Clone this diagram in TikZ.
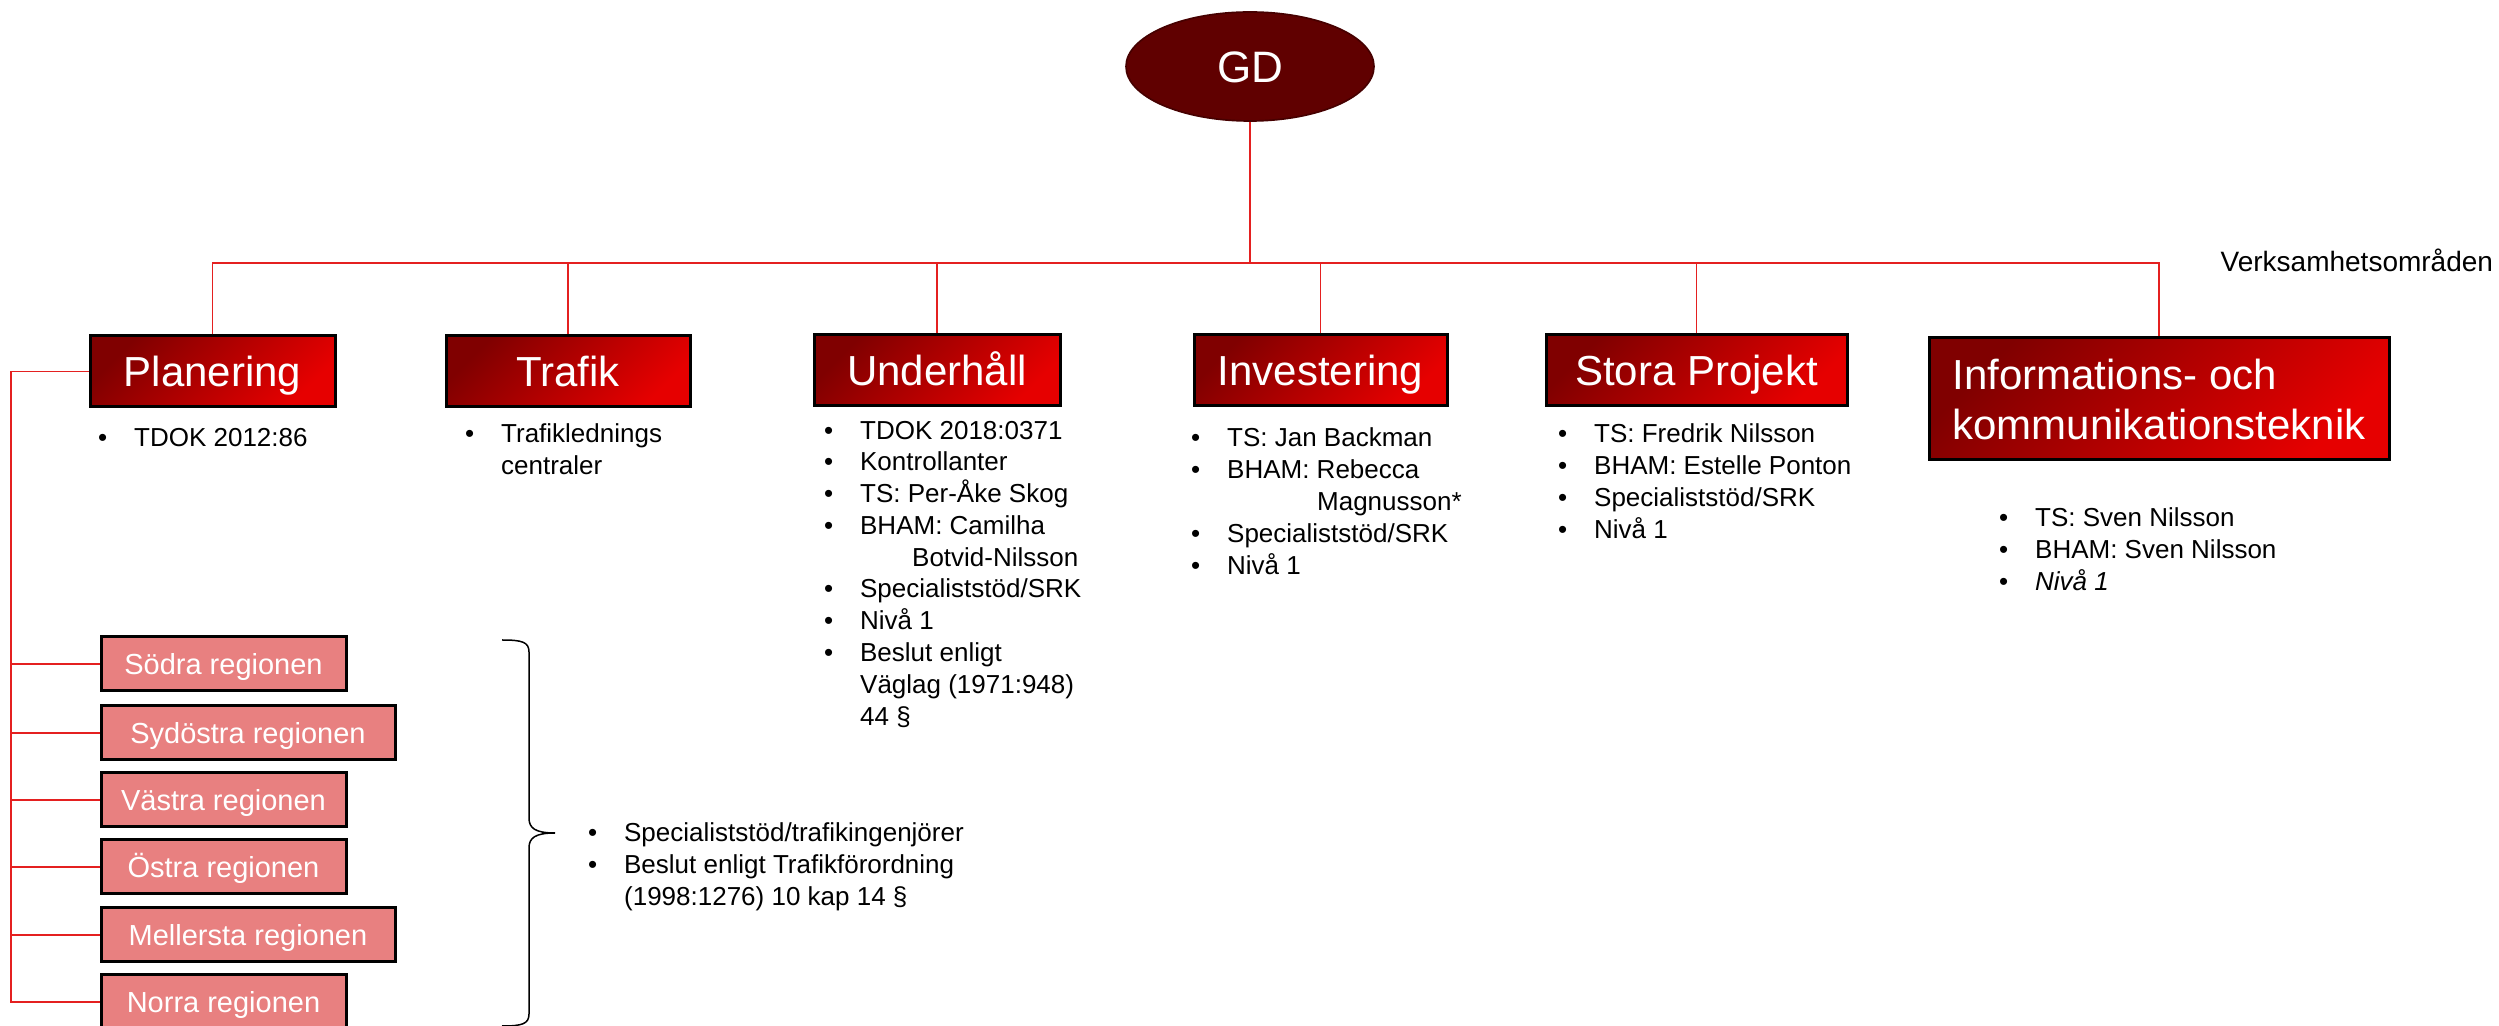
\documentclass[tikz,border=0pt]{standalone}
\usepackage{fontspec}
\setmainfont{Liberation Sans}
\usetikzlibrary{shapes.geometric,calc}
\definecolor{gdfill}{RGB}{96,0,0}
\definecolor{gdline}{RGB}{70,0,0}
\definecolor{boxdark}{RGB}{128,0,0}
\definecolor{boxlight}{RGB}{230,0,0}
\definecolor{regfill}{RGB}{232,128,128}
\definecolor{linered}{RGB}{228,32,32}
\newcommand{\bitem}[1]{\makebox[10.8pt][l]{•}#1}
\newcommand{\bcont}[1]{\hspace*{10.8pt}#1}
\tikzset{
  gdnode/.style={ellipse, fill=gdfill, draw=gdline, line width=0.5pt,
    minimum width=74.4pt, minimum height=32.7pt, inner sep=0pt, text=white,
    font=\fontsize{13.2}{15}\selectfont, text height=9.45pt, text depth=0pt},
  topbase/.style={draw=black, line width=0.9pt, top color=boxdark, bottom color=boxlight,
    shading angle=45, text=white, font=\fontsize{12.6}{15}\selectfont, inner sep=0pt},
  topbox/.style={topbase, minimum height=21.3pt, text height=9.02pt, text depth=0pt},
  regbox/.style={draw=black, line width=0.9pt, fill=regfill, text=white,
    font=\fontsize{8.7}{10}\selectfont, minimum height=16.2pt, inner sep=0pt,
    text height=6.23pt, text depth=0pt},
  lst/.style={anchor=base west, align=left, inner sep=0pt, font=\fontsize{7.8}{9.54}\selectfont},
  conn/.style={draw=linered, line width=0.5pt},
  bracestyle/.style={draw=black, line width=0.45pt}
}
\begin{document}
\begin{tikzpicture}[x=0.3pt,y=-0.3pt]
\useasboundingbox (0,0) rectangle (2499,1026);

\node[gdnode] (gd) at (1250,66.5) {GD};

\node[topbox, minimum width=73.5pt] (plan) at (212.5,371.5) {Planering};
\node[topbox, minimum width=73.2pt] (traf) at (568,371) {Trafik};
\node[topbox, minimum width=73.8pt] (under) at (937,370.5) {Underhåll};
\node[topbox, minimum width=75.9pt] (inv) at (1320.5,370.5) {Investering};
\node[topbox, minimum width=90.3pt] (stora) at (1696.5,370.5) {Stora Projekt};
\node[topbase, minimum width=138pt, minimum height=36.6pt, align=left] (info) at (2159,399)
  {Informations- och\\kommunikationsteknik};

\node[anchor=base west, inner sep=0pt, font=\fontsize{8.4}{10}\selectfont] (verk) at (2220,272) {Verksamhetsområden};

\node[regbox, minimum width=73.5pt] (r1) at (223.5,664) {Södra regionen};
\node[regbox, minimum width=88.2pt] (r2) at (248,733) {Sydöstra regionen};
\node[regbox, minimum width=73.5pt] (r3) at (223.5,800) {Västra regionen};
\node[regbox, minimum width=73.5pt] (r4) at (223.5,867) {Östra regionen};
\node[regbox, minimum width=88.2pt] (r5) at (248,935) {Mellersta regionen};
\node[regbox, minimum width=73.5pt] (r6) at (223.5,1002) {Norra regionen};

% base anchor of a multi-line node = baseline of its last line
\node[lst] (lplan) at (97.5,447) {\bitem{TDOK 2012:86}};
\node[lst] (ltraf) at (464.5,474.8) {\bitem{Trafiklednings}\\\bcont{centraler}};
\node[lst] (lunder) at (823.5,725.2) {\bitem{TDOK 2018:0371}\\\bitem{Kontrollanter}\\\bitem{TS: Per-Åke Skog}\\\bitem{BHAM: Camilha}\\\bcont{\hspace*{15.6pt}Botvid-Nilsson}\\\bitem{Specialiststöd/SRK}\\\bitem{Nivå 1}\\\bitem{Beslut enligt}\\\bcont{Väglag (1971:948)}\\\bcont{44 §}};
\node[lst] (linv) at (1190.5,574.2) {\bitem{TS: Jan Backman}\\\bitem{BHAM: Rebecca}\\\bcont{\hspace*{27pt}Magnusson*}\\\bitem{Specialiststöd/SRK}\\\bitem{Nivå 1}};
\node[lst] (lstora) at (1557.5,538.4) {\bitem{TS: Fredrik Nilsson}\\\bitem{BHAM: Estelle Ponton}\\\bitem{Specialiststöd/SRK}\\\bitem{Nivå 1}};
\node[lst] (linfo) at (1998.5,590.6) {\bitem{TS: Sven Nilsson}\\\bitem{BHAM: Sven Nilsson}\\\bitem{\itshape Nivå 1}};
\node[lst] (lreg) at (587.5,905.6) {\bitem{Specialiststöd/trafikingenjörer}\\\bitem{Beslut enligt Trafikförordning}\\\bcont{(1998:1276) 10 kap 14 §}};

\coordinate (bus) at (0,263);
\coordinate (lx) at (11,0);
\draw[conn] (gd.south) -- (gd.south |- bus);
\draw[conn] (plan.north) -- (plan.north |- bus) -- (info.north |- bus) -- (info.north);
\foreach \n in {traf,under,inv,stora} {\draw[conn] (\n.north) -- (\n.north |- bus);}
\draw[conn] (plan.west) -- (plan.west -| lx) -- (lx |- r6.west) -- (r6.west);
\foreach \r in {r1,r2,r3,r4,r5} {\draw[conn] (\r.west) -- (\r.west -| lx);}

\draw[bracestyle] (502,640) .. controls (522,640) and (529,642) .. (529,652) -- (529,818)
  .. controls (529,828) and (535,833) .. (555,833)
  .. controls (535,833) and (529,838) .. (529,848) -- (529,1014)
  .. controls (529,1024) and (522,1026) .. (502,1026);
\end{tikzpicture}
\end{document}
